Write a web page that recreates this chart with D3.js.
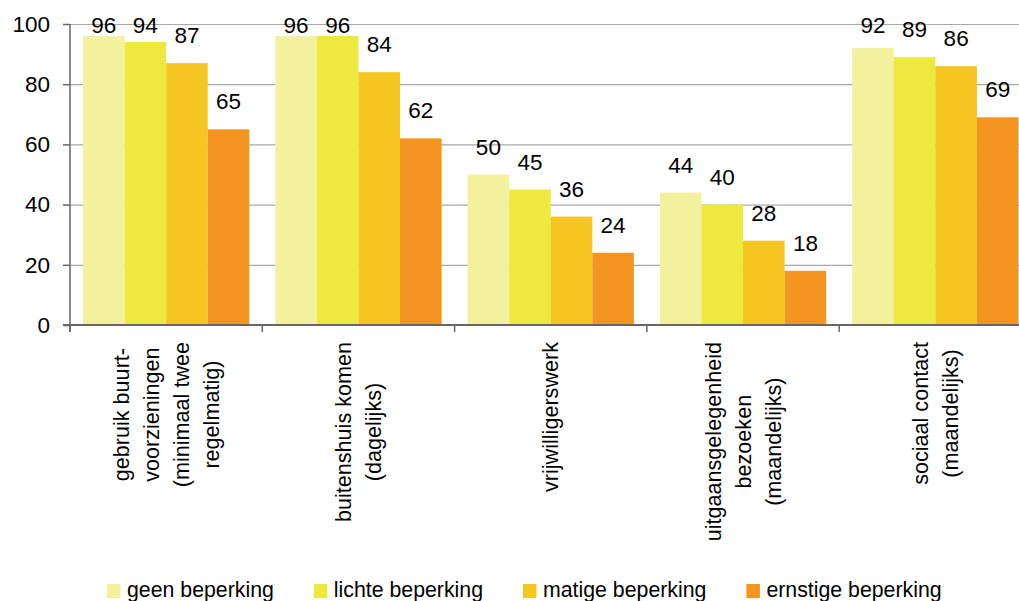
<!DOCTYPE html>
<html>
<head>
<meta charset="utf-8">
<script src="https://cdn.jsdelivr.net/npm/d3@7"></script>
<style>
    body { margin: 0; background: white; }
    svg { display: block; font-family: 'Liberation Sans', Arial, sans-serif; }
</style>
</head>
<body>
<svg id="chart"></svg>
<script>
// Categories (each entry holds the lines of the rotated label)
const categories = [
    ['gebruik buurt-', 'voorzieningen', '(minimaal twee', 'regelmatig)'],
    ['buitenshuis komen', '(dagelijks)'],
    ['vrijwilligerswerk'],
    ['uitgaansgelegenheid', 'bezoeken', '(maandelijks)'],
    ['sociaal contact', '(maandelijks)']
];
const series = ['geen beperking', 'lichte beperking', 'matige beperking', 'ernstige beperking'];
const geen = [96, 96, 50, 44, 92];
const lichte = [94, 96, 45, 40, 89];
const matige = [87, 84, 36, 28, 86];
const ernstige = [65, 62, 24, 18, 69];
const yTicks = [0, 20, 40, 60, 80, 100];

const values = [geen, lichte, matige, ernstige];
const colors = ['#f3f09e', '#eee93f', '#f5c522', '#f49521'];

const width = 1019;
const height = 601;
const margin = { top: 24, left: 70 };
const plotBottom = 325;
const step = 192.3;
const numSize = 22.5;
const labelSize = 21.6;

const svg = d3.select('#chart')
    .attr('width', width)
    .attr('height', height);

// Scales
const x0 = d3.scaleBand()
    .domain(d3.range(categories.length))
    .range([margin.left, margin.left + step * categories.length])
    .padding(0);

const x1 = d3.scaleBand()
    .domain(d3.range(series.length))
    .range([13, step - 13])
    .padding(0);

const y = d3.scaleLinear()
    .domain([0, 100])
    .range([plotBottom, margin.top]);

// Gridlines
svg.append('g')
    .attr('class', 'axis-grid')
    .attr('transform', `translate(${margin.left},0)`)
    .call(d3.axisLeft(y).tickValues(yTicks.filter((d) => d > 0)).tickSize(-(width)).tickFormat(''))
    .call((g) => g.select('.domain').remove());

d3.selectAll('.axis-grid line').style('stroke', '#a8a8a8').style('stroke-width', 1.2);

// Bars
const groups = svg.append('g')
    .selectAll('g')
    .data(categories)
    .join('g')
    .attr('transform', (d, i) => `translate(${x0(i)},0)`);

groups.selectAll('rect')
    .data((d, i) => values.map((s, j) => ({ s: j, v: s[i] })))
    .join('rect')
    .attr('x', (d) => x1(d.s))
    .attr('y', (d) => y(d.v))
    .attr('width', x1.bandwidth())
    .attr('height', (d) => plotBottom - y(d.v))
    .attr('fill', (d) => colors[d.s]);

// Value labels
groups.selectAll('text')
    .data((d, i) => values.map((s, j) => ({ s: j, v: s[i] })))
    .join('text')
    .attr('x', (d) => x1(d.s) + x1.bandwidth() / 2)
    .attr('y', (d) => Math.max(y(d.v) - 20, 33))
    .attr('text-anchor', 'middle')
    .attr('font-size', numSize)
    .attr('fill', '#000')
    .text((d) => d.v);

// Y axis
const yAxis = svg.append('g')
    .attr('transform', `translate(${margin.left},0)`)
    .call(d3.axisLeft(y).tickValues(yTicks).tickSize(7).tickPadding(13))
    .call((g) => g.select('.domain').remove());

yAxis.selectAll('line').attr('stroke', '#666').attr('stroke-width', 1.5);
yAxis.selectAll('text')
    .attr('font-size', numSize)
    .attr('font-family', 'Liberation Sans, Arial, sans-serif')
    .attr('fill', '#000');

// X axis (baseline + ticks at category boundaries)
const xAxis = svg.append('g')
    .attr('transform', `translate(0,${plotBottom})`)
    .call(d3.axisBottom(x0).tickSize(7).tickFormat(''))
    .call((g) => g.select('.domain').remove());

xAxis.selectAll('.tick').attr('transform', (d) => `translate(${x0(d)},0)`);
xAxis.selectAll('line').attr('stroke', '#666').attr('stroke-width', 1.5);

svg.append('line')
    .attr('x1', margin.left - 7)
    .attr('x2', width)
    .attr('y1', plotBottom)
    .attr('y2', plotBottom)
    .attr('stroke', '#666')
    .attr('stroke-width', 2);

svg.append('line')
    .attr('x1', margin.left)
    .attr('x2', margin.left)
    .attr('y1', margin.top)
    .attr('y2', plotBottom + 7)
    .attr('stroke', '#666')
    .attr('stroke-width', 1.5);

// Category labels, rotated, block top aligned just under the axis
categories.forEach((lines, i) => {
    const cx = x0(i) + step / 2;
    const g = svg.append('g')
        .attr('transform', `translate(${cx},342) rotate(-90)`);
    const texts = g.selectAll('text')
        .data(lines)
        .join('text')
        .attr('y', (d, k) => (k - (lines.length - 1) / 2) * 30)
        .attr('dy', '0.35em')
        .attr('text-anchor', 'middle')
        .attr('font-size', labelSize)
        .attr('fill', '#000')
        .text((d) => d);
    let maxLen = 0;
    texts.each(function () { maxLen = Math.max(maxLen, this.getComputedTextLength()); });
    texts.attr('x', -maxLen / 2);
});

// Legend
const legend = svg.append('g').attr('transform', 'translate(107,0)');
let lx = 0;
series.forEach((name, i) => {
    legend.append('rect')
        .attr('x', lx)
        .attr('y', 584)
        .attr('width', 13.5)
        .attr('height', 14)
        .attr('fill', colors[i]);
    const t = legend.append('text')
        .attr('x', lx + 20)
        .attr('y', 597)
        .attr('font-size', 21.3)
        .attr('fill', '#000')
        .text(name);
    lx += 20 + t.node().getComputedTextLength() + 40;
});
</script>
</body>
</html>
